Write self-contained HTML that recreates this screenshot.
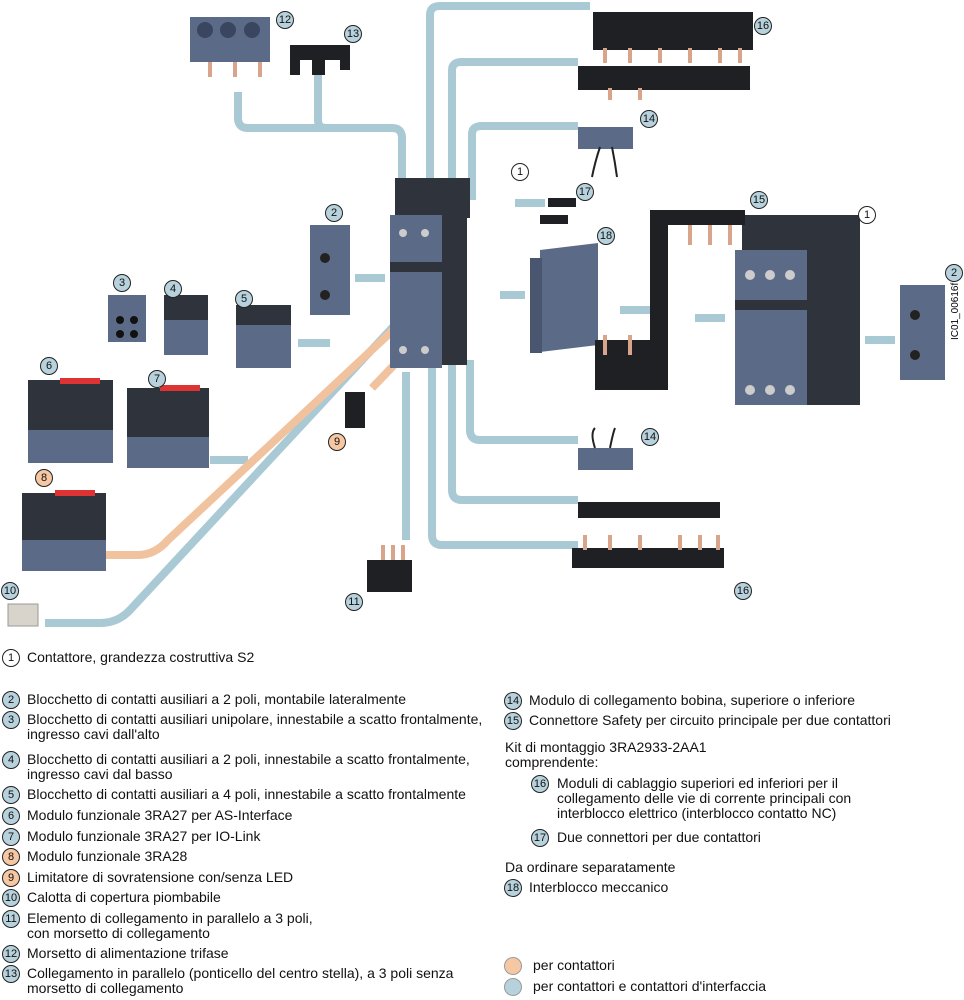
<!DOCTYPE html>
<html><head><meta charset="utf-8"><style>
body{margin:0;background:#fff;width:964px;height:1000px;overflow:hidden;position:relative;font-family:"Liberation Sans",sans-serif;font-size:14px;color:#111}
.t{position:absolute;line-height:15px;white-space:nowrap}
.c{position:absolute;width:16px;height:16px;border:1px solid #222;border-radius:50%;background:#b7d2dc;font-size:11px;line-height:16px;text-align:center;box-sizing:content-box}
.o{background:#f6c7a3}.w{background:#fff}
</style></head><body>
<svg width="964" height="640" style="position:absolute;left:0;top:0" xmlns="http://www.w3.org/2000/svg">
<g fill="none" stroke="#a9c9d5" stroke-width="8" stroke-linecap="butt">
<path d="M238,92 V118 Q238,128 248,128 H392 Q402,128 402,138 V195"/>
<path d="M318,72 V120 Q318,128 326,128"/>
<path d="M430,200 V15 Q430,6 440,6 H590"/>
<path d="M452,200 V70 Q452,62 462,62 H578"/>
<path d="M472,200 V134 Q472,126 482,126 H578"/>
<path d="M470,360 V430 Q470,440 480,440 H578"/>
<path d="M452,360 V490 Q452,500 462,500 H578"/>
<path d="M432,360 V535 Q432,545 442,545 H578"/>
<path d="M406,372 V540"/>
<path d="M355,278 H385M500,295 H525M620,310 H650M695,318 H725M865,340 H895M515,203 H545M298,343 H330M210,460 H248"/>
<path d="M45,623 H100 Q118,623 130,610 L418,300"/>
</g>
<g fill="none" stroke="#f1c29e" stroke-width="8">
<path d="M105,555 H138 Q155,555 168,540 L420,305"/>
<path d="M372,388 L445,312"/>
</g>
<rect x="395" y="178" width="75" height="40" fill="#2e333c"/>
<rect x="440" y="190" width="27" height="175" fill="#2e333c"/>
<rect x="390" y="215" width="52" height="153" fill="#5b6a86"/>
<rect x="390" y="262" width="52" height="10" fill="#2e333c"/>
<circle cx="403" cy="233" r="4" fill="#ccc"/><circle cx="425" cy="233" r="4" fill="#ccc"/><circle cx="403" cy="350" r="4" fill="#ccc"/><circle cx="425" cy="350" r="4" fill="#ccc"/>
<rect x="742" y="215" width="118" height="45" fill="#2e333c"/>
<rect x="800" y="240" width="60" height="165" fill="#2e333c"/>
<rect x="735" y="250" width="72" height="155" fill="#5b6a86"/>
<rect x="735" y="300" width="72" height="10" fill="#2e333c"/>
<circle cx="750" cy="275" r="5" fill="#ccc"/><circle cx="770" cy="275" r="5" fill="#ccc"/><circle cx="790" cy="275" r="5" fill="#ccc"/>
<circle cx="750" cy="390" r="5" fill="#ccc"/><circle cx="770" cy="390" r="5" fill="#ccc"/><circle cx="790" cy="390" r="5" fill="#ccc"/>
<path d="M540,250 L598,243 V345 L540,352 Z" fill="#5b6a86"/><rect x="530" y="258" width="12" height="95" fill="#4a5670"/>
<path d="M595,340 H650 V210 H745 V225 H668 V390 H595 Z" fill="#1e2024"/>
<path d="M605,335 v20 M630,335 v20 M690,225 v20 M710,225 v20 M730,225 v20" stroke="#d8a58a" stroke-width="4"/>
<rect x="593" y="12" width="160" height="38" fill="#1e2024"/>
<path d="M605,48 v15 M630,48 v15 M660,48 v15 M690,48 v15 M720,48 v15 M740,48 v15" stroke="#d8a58a" stroke-width="4"/>
<rect x="578" y="66" width="172" height="24" fill="#1e2024"/>
<path d="M610,88 v12 M640,88 v12" stroke="#d8a58a" stroke-width="4"/>
<rect x="578" y="502" width="142" height="16" fill="#1e2024"/>
<rect x="572" y="548" width="152" height="20" fill="#1e2024"/>
<path d="M585,535 v15 M610,535 v15 M640,535 v15 M680,535 v15 M700,535 v15 M718,535 v15" stroke="#d8a58a" stroke-width="4"/>
<rect x="578" y="127" width="55" height="22" fill="#5b6a86"/>
<path d="M600,147 q-5,15 -8,30 M612,147 q3,15 5,30" stroke="#222" stroke-width="2" fill="none"/>
<rect x="578" y="448" width="55" height="22" fill="#5b6a86"/>
<path d="M595,448 q-5,-15 0,-20 M610,448 q3,-15 5,-20" stroke="#222" stroke-width="2" fill="none"/>
<rect x="190" y="17" width="80" height="45" fill="#5b6a86"/>
<circle cx="205" cy="30" r="8" fill="#3a4560"/><circle cx="228" cy="30" r="8" fill="#3a4560"/><circle cx="252" cy="30" r="8" fill="#3a4560"/>
<path d="M210,62 v15 M235,62 v15 M260,62 v15" stroke="#d8a58a" stroke-width="4"/>
<path d="M290,45 H350 V70 H340 V60 H325 V75 H312 V60 H300 V75 H290 Z" fill="#1e2024"/>
<rect x="548" y="198" width="28" height="9" fill="#1e2024"/><rect x="540" y="215" width="28" height="9" fill="#1e2024"/>
<rect x="310" y="225" width="40" height="90" fill="#5b6a86"/><circle cx="325" cy="258" r="5" fill="#222"/><circle cx="325" cy="295" r="5" fill="#222"/>
<rect x="900" y="285" width="45" height="95" fill="#5b6a86"/><circle cx="915" cy="315" r="5" fill="#222"/><circle cx="915" cy="355" r="5" fill="#222"/>
<rect x="108" y="295" width="38" height="47" fill="#5b6a86"/><circle cx="120" cy="320" r="4" fill="#111"/><circle cx="134" cy="320" r="4" fill="#111"/><circle cx="120" cy="334" r="4" fill="#111"/><circle cx="134" cy="334" r="4" fill="#111"/>
<rect x="164" y="295" width="44" height="60" fill="#2e333c"/><rect x="164" y="320" width="44" height="35" fill="#5b6a86"/>
<rect x="236" y="305" width="55" height="63" fill="#2e333c"/><rect x="236" y="325" width="55" height="43" fill="#5b6a86"/>
<rect x="28" y="380" width="85" height="83" fill="#2e333c"/><rect x="28" y="430" width="85" height="33" fill="#5b6a86"/><rect x="60" y="378" width="40" height="6" fill="#d33"/>
<rect x="127" y="388" width="82" height="80" fill="#2e333c"/><rect x="127" y="437" width="82" height="31" fill="#5b6a86"/><rect x="160" y="385" width="40" height="6" fill="#d33"/>
<rect x="22" y="493" width="84" height="78" fill="#2e333c"/><rect x="22" y="540" width="84" height="31" fill="#5b6a86"/><rect x="55" y="490" width="40" height="6" fill="#d33"/>
<rect x="345" y="392" width="20" height="36" fill="#1e2024"/>
<rect x="8" y="604" width="30" height="22" fill="#d8d4cc" stroke="#999"/>
<rect x="367" y="560" width="45" height="32" fill="#1e2024"/><path d="M383,545 v15 M393,545 v15 M403,545 v15" stroke="#d8a58a" stroke-width="4"/>
<text x="958" y="340" font-size="10" transform="rotate(-90 958 340)" font-family="Liberation Sans">IC01_00616f</text>
</svg>
<div class="c" style="left:276px;top:11px">12</div>
<div class="c" style="left:344px;top:25px">13</div>
<div class="c" style="left:754px;top:17px">16</div>
<div class="c" style="left:640px;top:110px">14</div>
<div class="c w" style="left:511px;top:163px">1</div>
<div class="c" style="left:576px;top:183px">17</div>
<div class="c" style="left:750px;top:191px">15</div>
<div class="c w" style="left:858px;top:206px">1</div>
<div class="c" style="left:597px;top:227px">18</div>
<div class="c" style="left:325px;top:204px">2</div>
<div class="c" style="left:945px;top:264px">2</div>
<div class="c" style="left:113px;top:274px">3</div>
<div class="c" style="left:164px;top:280px">4</div>
<div class="c" style="left:235px;top:290px">5</div>
<div class="c" style="left:40px;top:357px">6</div>
<div class="c" style="left:148px;top:370px">7</div>
<div class="c o" style="left:35px;top:469px">8</div>
<div class="c o" style="left:328px;top:433px">9</div>
<div class="c" style="left:641px;top:428px">14</div>
<div class="c" style="left:1px;top:582px">10</div>
<div class="c" style="left:345px;top:593px">11</div>
<div class="c" style="left:734px;top:582px">16</div>

<div class="c w" style="left:2px;top:649px">1</div><div class="t" style="left:27px;top:650px">Contattore, grandezza costruttiva S2</div>
<div class="c" style="left:2px;top:691px">2</div><div class="t" style="left:27px;top:692px">Blocchetto di contatti ausiliari a 2 poli, montabile lateralmente</div>
<div class="c" style="left:2px;top:711px">3</div><div class="t" style="left:27px;top:712px">Blocchetto di contatti ausiliari unipolare, innestabile a scatto frontalmente,<br>ingresso cavi dall'alto</div>
<div class="c" style="left:2px;top:751px">4</div><div class="t" style="left:27px;top:752px">Blocchetto di contatti ausiliari a 2 poli, innestabile a scatto frontalmente,<br>ingresso cavi dal basso</div>
<div class="c" style="left:2px;top:786px">5</div><div class="t" style="left:27px;top:787px">Blocchetto di contatti ausiliari a 4 poli, innestabile a scatto frontalmente</div>
<div class="c" style="left:2px;top:807px">6</div><div class="t" style="left:27px;top:808px">Modulo funzionale 3RA27 per AS-Interface</div>
<div class="c" style="left:2px;top:828px">7</div><div class="t" style="left:27px;top:829px">Modulo funzionale 3RA27 per IO-Link</div>
<div class="c o" style="left:2px;top:848px">8</div><div class="t" style="left:27px;top:849px">Modulo funzionale 3RA28</div>
<div class="c o" style="left:2px;top:869px">9</div><div class="t" style="left:27px;top:870px">Limitatore di sovratensione con/senza LED</div>
<div class="c" style="left:2px;top:889px">10</div><div class="t" style="left:27px;top:890px">Calotta di copertura piombabile</div>
<div class="c" style="left:2px;top:910px">11</div><div class="t" style="left:27px;top:911px">Elemento di collegamento in parallelo a 3 poli,<br>con morsetto di collegamento</div>
<div class="c" style="left:2px;top:945px">12</div><div class="t" style="left:27px;top:946px">Morsetto di alimentazione trifase</div>
<div class="c" style="left:2px;top:965px">13</div><div class="t" style="left:27px;top:966px">Collegamento in parallelo (ponticello del centro stella), a 3 poli senza<br>morsetto di collegamento</div>

<div class="c" style="left:504px;top:692px">14</div><div class="t" style="left:529px;top:693px">Modulo di collegamento bobina, superiore o inferiore</div>
<div class="c" style="left:504px;top:712px">15</div><div class="t" style="left:529px;top:713px">Connettore Safety per circuito principale per due contattori</div>
<div class="t" style="left:505px;top:740px">Kit di montaggio 3RA2933-2AA1<br>comprendente:</div>
<div class="c" style="left:531px;top:775px">16</div><div class="t" style="left:557px;top:776px">Moduli di cablaggio superiori ed inferiori per il<br>collegamento delle vie di corrente principali con<br>interblocco elettrico (interblocco contatto NC)</div>
<div class="c" style="left:531px;top:829px">17</div><div class="t" style="left:557px;top:830px">Due connettori per due contattori</div>
<div class="t" style="left:505px;top:860px">Da ordinare separatamente</div>
<div class="c" style="left:504px;top:879px">18</div><div class="t" style="left:529px;top:880px">Interblocco meccanico</div>
<div class="c o" style="left:504px;top:957px;border-color:#999"></div><div class="t" style="left:533px;top:958px">per contattori</div>
<div class="c" style="left:504px;top:978px;border-color:#999"></div><div class="t" style="left:533px;top:979px">per contattori e contattori d'interfaccia</div>
</body></html>
